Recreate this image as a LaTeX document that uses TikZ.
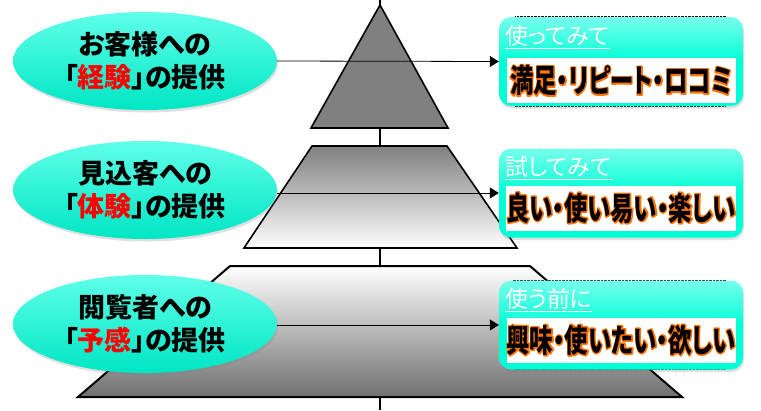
\documentclass[tikz,border=0pt]{standalone}
\usepackage{fontspec}
\setmainfont{Noto Sans CJK JP}[RawFeature=+palt]
\usetikzlibrary{shapes.geometric}
\usetikzlibrary{positioning}
\usetikzlibrary{arrows.meta}
\usetikzlibrary{shadows}

\definecolor{elltop}{RGB}{95,255,232}
\definecolor{ellbot}{RGB}{0,230,196}
\definecolor{boxtop}{RGB}{120,255,236}
\definecolor{boxfill}{RGB}{0,255,214}
\definecolor{stepgray}{RGB}{128,128,128}
\definecolor{basegray}{RGB}{112,112,112}

% orange outline under the black letters
\newcommand{\glow}[1]{\leavevmode
    \rlap{\special{pdf:literal direct 1 Tr 3 w 1 j 1 0.46 0 RG}#1\special{pdf:literal direct 0 Tr}}#1}

\begin{document}
\begin{tikzpicture}[x=1pt,y=-1pt,
    stage/.style={draw,line width=1.6pt},
    flow/.style={draw,line width=0.8pt,-{Triangle[length=9pt,width=11pt]}},
    bubble/.style={ellipse,minimum width=264pt,minimum height=98pt,inner sep=0pt,
        top color=elltop,bottom color=ellbot,align=center,
        drop shadow={opacity=0.25,shadow xshift=1pt,shadow yshift=-2.5pt},
        font=\fontsize{27}{33}\selectfont\bfseries},
    panel/.style={rectangle,rounded corners=12pt,minimum width=244pt,minimum height=89pt,
        top color=boxtop,bottom color=boxfill,middle color=boxfill,
        drop shadow={opacity=0.25,shadow xshift=1pt,shadow yshift=-2.5pt}},
    paneltitle/.style={text=white,inner sep=0pt,font=\fontsize{23}{25}\selectfont},
    panelbody/.style={fill=white,minimum width=229pt,minimum height=45pt,inner sep=0pt,
        font=\fontsize{32}{34}\selectfont\bfseries}]
    \useasboundingbox (0,0) rectangle (761,410);

    % pyramid
    \draw[line width=1.2pt] (380,0) -- (380,410);
    \path[stage,fill=stepgray] (380,5) -- (311,128) -- (448,128) -- cycle;
    \path[stage,top color=stepgray,bottom color=white] (312,146) -- (447,146) -- (517,248) -- (244,248) -- cycle;
    \path[stage,line width=2pt,top color=white,bottom color=basegray] (230,266) -- (530,266) -- (682,397) -- (78,397) -- cycle;

    % left side
    \node[bubble] (e1) at (145,61) {お客様への\\「\textcolor{red}{経験}」の提供};
    \node[bubble] (e2) at (145,190) {見込客への\\「\textcolor{red}{体験}」の提供};
    \node[bubble] (e3) at (145,324) {閲覧者への\\「\textcolor{red}{予感}」の提供};

    % right side
    \draw[densely dotted] (515,16) rectangle (725,106);
    \draw[densely dotted] (513,280) rectangle (725,369);
    \node[panel] (b1) at (621,61.5) {};
    \node[panel] (b2) at (621,193) {};
    \node[panel] (b3) at (621,325) {};

    \node[paneltitle,anchor=north west] (t1) at ([xshift=6pt,yshift=-8pt]b1.north west) {\underline{使ってみて}};
    \node[paneltitle,anchor=north west] (t2) at ([xshift=6pt,yshift=-8pt]b2.north west) {\underline{試してみて}};
    \node[paneltitle,anchor=north west] (t3) at ([xshift=6pt,yshift=-8pt]b3.north west) {\underline{使う前に}};

    \node[panelbody,anchor=south] (w1) at ([yshift=3pt]b1.south) {\scalebox{0.73}[1]{\glow{満足・リピート・ロコミ}}};
    \node[panelbody,anchor=south] (w2) at ([yshift=7pt]b2.south) {\scalebox{0.73}[1]{\glow{良い・使い易い・楽しい}}};
    \node[panelbody,anchor=south] (w3) at ([yshift=7pt]b3.south) {\scalebox{0.73}[1]{\glow{興味・使いたい・欲しい}}};

    % arrows
    \draw[flow] (e1.east) -- (b1.west);
    \draw[flow] (e2.east |- b2.west) -- (b2.west);
    \draw[flow] (e3.east |- b3.west) -- (b3.west);
\end{tikzpicture}
\end{document}
